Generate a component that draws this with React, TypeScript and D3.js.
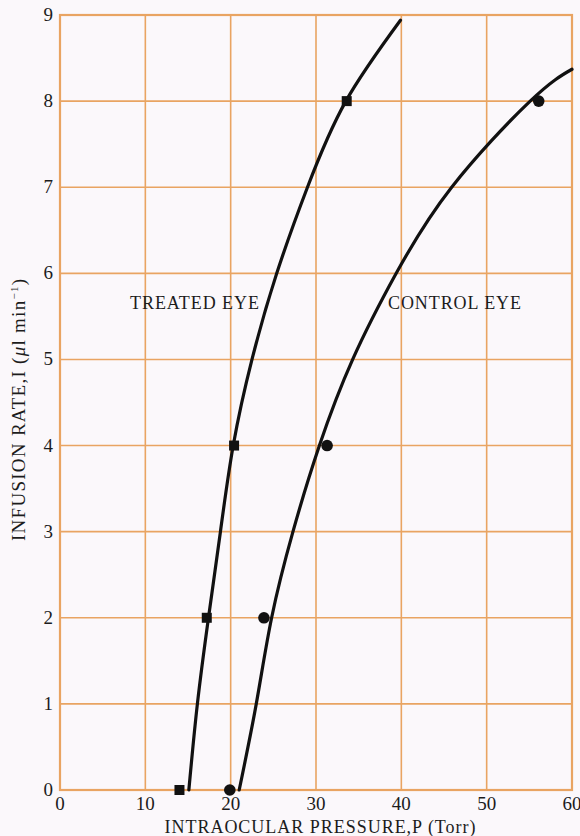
import React from "react";
import * as d3 from "d3";

// Measured points (pressure P in Torr, infusion rate I in µl/min)
const treatedPressure = [14.0, 17.2, 20.4, 33.6];
const treatedRate = [0, 2, 4, 8];
const controlPressure = [19.9, 23.9, 31.3, 56.1];
const controlRate = [0, 2, 4, 8];

// Hand-fitted curves through each eye's data
const treatedCurveP = [15.1, 16.1, 17.4, 18.8, 20.3, 22.5, 25.4, 29.0, 33.5, 39.9];
const treatedCurveI = [0, 1, 2, 3, 4, 5, 6, 7, 8, 8.94];
const controlCurveP = [21.0, 23.0, 24.8, 27.3, 30.4, 34.3, 39.4, 45.9, 55.1, 60];
const controlCurveI = [0, 1, 2, 3, 4, 5, 6, 7, 8, 8.37];

const xTicks = [0, 10, 20, 30, 40, 50, 60];
const yTicks = [0, 1, 2, 3, 4, 5, 6, 7, 8, 9];

const W = 580;
const H = 836;
const left = 60;
const right = 572;
const top = 15;
const bottom = 790;

const GRID = "#e9a462";
const INK = "#1c1c1c";
const FONT = "Liberation Serif, DejaVu Serif, serif";

export default function App() {
  const x = d3.scaleLinear().domain([0, 60]).range([left, right]);
  const y = d3.scaleLinear().domain([0, 9]).range([bottom, top]);

  const line = d3
    .line<[number, number]>()
    .x((d) => x(d[0]))
    .y((d) => y(d[1]))
    .curve(d3.curveNatural);

  const treatedPath = line(treatedCurveP.map((p, i) => [p, treatedCurveI[i]]) as [number, number][]) || "";
  const controlPath = line(controlCurveP.map((p, i) => [p, controlCurveI[i]]) as [number, number][]) || "";

  const sq = 10;
  const txt = { fontFamily: FONT, fill: INK } as React.CSSProperties;

  return (
    <svg
      width={W}
      height={H}
      style={{ position: "absolute", left: 0, top: 0, display: "block", background: "#fbf8fb" }}
    >
      <rect x={0} y={0} width={W} height={H} fill="#fbf8fb" />
      {/* grid */}
      {xTicks.slice(1, -1).map((t) => (
        <line key={"gx" + t} x1={x(t)} x2={x(t)} y1={y(9)} y2={y(0)} stroke={GRID} strokeWidth={1.6} />
      ))}
      {yTicks.slice(1, -1).map((t) => (
        <line key={"gy" + t} x1={x(0)} x2={x(60)} y1={y(t)} y2={y(t)} stroke={GRID} strokeWidth={1.6} />
      ))}
      <rect
        x={x(0)}
        y={y(9)}
        width={x(60) - x(0)}
        height={y(0) - y(9)}
        fill="none"
        stroke={GRID}
        strokeWidth={2.2}
      />

      {/* tick labels */}
      {xTicks.map((t) => (
        <text key={"xt" + t} x={x(t)} y={bottom + 20} textAnchor="middle" fontSize={19} style={txt}>
          {t}
        </text>
      ))}
      {yTicks.map((t) => (
        <text key={"yt" + t} x={left - 7} y={y(t) + 6} textAnchor="end" fontSize={19} style={txt}>
          {t}
        </text>
      ))}

      {/* axis titles */}
      <text
        x={320}
        y={833}
        textAnchor="middle"
        fontSize={18}
        textLength={311}
        lengthAdjust="spacing"
        style={txt}
      >
        INTRAOCULAR PRESSURE,P (Torr)
      </text>
      <text
        transform={`translate(25, ${410}) rotate(-90)`}
        textAnchor="middle"
        fontSize={19}
        textLength={262}
        lengthAdjust="spacing"
        style={txt}
      >
        INFUSION RATE,I (<tspan fontStyle="italic">μ</tspan>l min
        <tspan fontSize={11} dy={-7}>−1</tspan>
        <tspan dy={7}>)</tspan>
      </text>

      {/* curves */}
      <path d={treatedPath} fill="none" stroke="#111" strokeWidth={3.2} strokeLinecap="round" />
      <path d={controlPath} fill="none" stroke="#111" strokeWidth={3.2} strokeLinecap="round" />

      {/* markers */}
      {treatedPressure.map((p, i) => (
        <rect
          key={"tp" + i}
          x={x(p) - sq / 2}
          y={y(treatedRate[i]) - sq / 2}
          width={sq}
          height={sq}
          fill="#111"
        />
      ))}
      {controlPressure.map((p, i) => (
        <circle key={"cp" + i} cx={x(p)} cy={y(controlRate[i])} r={5.8} fill="#111" />
      ))}

      {/* curve labels */}
      <text x={130} y={309} fontSize={18} textLength={129} lengthAdjust="spacing" style={txt}>
        TREATED EYE
      </text>
      <text x={388} y={309} fontSize={18} textLength={133} lengthAdjust="spacing" style={txt}>
        CONTROL EYE
      </text>
    </svg>
  );
}
